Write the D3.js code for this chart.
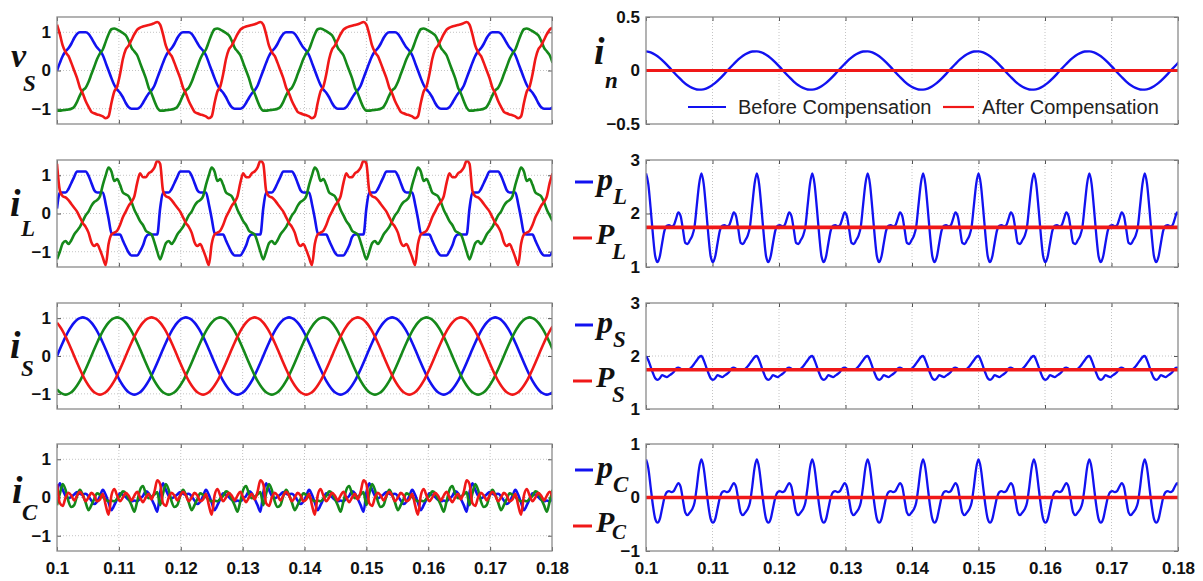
<!DOCTYPE html>
<html>
<head>
<meta charset="utf-8">
<script src="https://cdn.jsdelivr.net/npm/d3@7"></script>
<style>
body { margin: 0; background: #fff; }
svg { display: block; }
.tick text { font-family: "Liberation Sans Narrow", "Arial Narrow", "Liberation Sans", Arial, sans-serif; font-weight: bold; font-size: 17px; fill: #111; }
</style>
</head>
<body>
<svg id="chart" width="1203" height="581"></svg>
<script>
// ---- data -------------------------------------------------------------
const tStart = 0.1, tEnd = 0.18
const xTickValues = [0.1, 0.11, 0.12, 0.13, 0.14, 0.15, 0.16, 0.17, 0.18]
const xTickLabels = ["0.1", "0.11", "0.12", "0.13", "0.14", "0.15", "0.16", "0.17", "0.18"]

const lineCycle = 1 / 60
const vsA = [0, 0.2, 0.38, 0.5, 0.58, 0.7, 0.85, 0.96, 1.0, 1.0, 1.0, 0.96, 0.85, 0.72, 0.6, 0.52, 0.4, 0.2,
             0, -0.2, -0.38, -0.5, -0.58, -0.7, -0.85, -0.96, -1.0, -1.0, -1.0, -0.96, -0.85, -0.72, -0.6, -0.52, -0.4, -0.2]
const vsB = [-1.05, -1.05, -1.04, -1.03, -1.02, -1.0, -0.95, -0.82, -0.65, -0.52, -0.45, -0.3, -0.1, 0.1, 0.3, 0.45, 0.55, 0.75,
             0.95, 1.08, 1.1, 1.07, 1.03, 0.98, 0.92, 0.78, 0.6, 0.5, 0.4, 0.2, 0.0, -0.2, -0.45, -0.6, -0.8, -0.97]
const vsC = [1.2, 0.95, 0.65, 0.48, 0.38, 0.2, 0.0, -0.2, -0.45, -0.6, -0.8, -0.95, -1.08, -1.12, -1.15, -1.17, -1.2, -1.25,
             -1.2, -0.85, -0.55, -0.42, -0.1, 0.3, 0.55, 0.65, 0.8, 0.95, 1.07, 1.12, 1.15, 1.17, 1.19, 1.21, 1.24, 1.27]

const iLA = [0.13, 0.55, 0.55, 0.55, 0.64, 0.8, 0.96, 1.1, 1.1, 1.1, 1.1, 0.99, 0.8, 0.61, 0.55, 0.55, 0.55, 0.25,
             -0.13, -0.51, -0.55, -0.55, -0.55, -0.71, -0.87, -1.02, -1.1, -1.1, -1.1, -0.99, -0.84, -0.62, -0.55, -0.55, -0.55, -0.55]
const iLB = [-1.2, -1.0, -0.78, -0.72, -0.8, -0.7, -0.55, -0.45, -0.35, -0.2, -0.05, 0.05, 0.2, 0.3, 0.35, 0.45, 0.75, 1.0,
             1.2, 1.1, 0.85, 0.9, 0.75, 0.55, 0.5, 0.45, 0.3, 0.1, -0.05, -0.2, -0.3, -0.45, -0.5, -0.55, -0.75, -1.0]
const iLC = [1.3, 0.6, 0.45, 0.42, 0.35, 0.25, 0.15, 0.05, -0.1, -0.25, -0.35, -0.5, -0.75, -0.85, -0.8, -0.95, -1.15, -1.35,
             -0.8, -0.55, -0.5, -0.45, -0.3, -0.1, 0.05, 0.2, 0.3, 0.45, 0.8, 1.05, 0.95, 0.95, 1.05, 1.1, 1.2, 1.38]

const isA = [0, 0.18, 0.35, 0.51, 0.66, 0.78, 0.88, 0.96, 1.0, 1.02, 1.0, 0.96, 0.88, 0.78, 0.66, 0.51, 0.35, 0.18,
             0, -0.18, -0.35, -0.51, -0.66, -0.78, -0.88, -0.96, -1.0, -1.02, -1.0, -0.96, -0.88, -0.78, -0.66, -0.51, -0.35, -0.18]
const isB = [-0.88, -0.96, -1.0, -1.02, -1.0, -0.96, -0.88, -0.78, -0.66, -0.51, -0.35, -0.18, 0, 0.18, 0.35, 0.51, 0.66, 0.78,
             0.88, 0.96, 1.0, 1.02, 1.0, 0.96, 0.88, 0.78, 0.66, 0.51, 0.35, 0.18, 0, -0.18, -0.35, -0.51, -0.66, -0.78]
const isC = [0.88, 0.78, 0.66, 0.51, 0.35, 0.18, 0, -0.18, -0.35, -0.51, -0.66, -0.78, -0.88, -0.96, -1.0, -1.02, -1.0, -0.96,
             -0.88, -0.78, -0.66, -0.51, -0.35, -0.18, 0, 0.18, 0.35, 0.51, 0.66, 0.78, 0.88, 0.96, 1.0, 1.02, 1.0, 0.96]

const icA = [0.13, 0.37, 0.2, 0.04, -0.02, 0.02, 0.08, 0.14, 0.1, 0.08, 0.1, 0.03, -0.08, -0.17, -0.11, 0.04, 0.2, 0.07,
             -0.13, -0.33, -0.2, -0.04, 0.11, 0.07, 0.01, -0.06, -0.1, -0.08, -0.1, -0.03, 0.04, 0.16, 0.11, -0.04, -0.2, -0.37]
const icB = [-0.2, 0.1, 0.35, 0.2, -0.1, -0.25, -0.2, 0.04, 0.2, 0.07, -0.13, -0.33, -0.2, -0.04, 0.11, 0.07, 0.01, -0.06,
             -0.1, -0.08, -0.1, -0.03, 0.04, 0.16, 0.11, -0.04, -0.2, -0.37, -0.1, 0.2, 0.3, 0.1, -0.02, 0.02, 0.08, 0.14]
const icC = [0.35, -0.15, -0.22, 0.0, 0.12, 0.05, -0.08, 0.05, 0.15, 0.05, -0.1, 0.0, 0.12, 0.05, -0.1, -0.05, 0.1, -0.2,
             -0.45, 0.05, 0.22, 0.05, -0.1, 0.0, 0.12, 0.05, -0.08, 0.05, 0.15, 0.0, -0.12, 0.0, 0.1, -0.05, 0.15, 0.45]

// neutral current, one 60 Hz cycle every 15 deg
const inBefore = [0.179, 0.169, 0.147, 0.116, 0.076, 0.031, -0.016, -0.061, -0.103, -0.138, -0.163, -0.177,
                  -0.179, -0.169, -0.147, -0.116, -0.076, -0.031, 0.016, 0.061, 0.103, 0.138, 0.163, 0.177]
const inAfter = 0

// instantaneous powers, one 120 Hz ripple cycle every 15 deg
const powerCycle = 1 / 120
const pL = [2.75, 2.55, 2.1, 1.6, 1.2, 1.09, 1.2, 1.45, 1.68, 1.77, 1.78, 1.76,
            1.78, 1.9, 2.02, 1.95, 1.7, 1.45, 1.43, 1.5, 1.58, 1.75, 2.15, 2.55]
const pS = [2.0, 1.92, 1.8, 1.68, 1.58, 1.55, 1.58, 1.64, 1.62, 1.6, 1.63, 1.66,
            1.7, 1.76, 1.78, 1.76, 1.74, 1.74, 1.75, 1.76, 1.8, 1.86, 1.92, 1.98]
const pC = [0.71, 0.55, 0.2, -0.15, -0.4, -0.47, -0.4, -0.2, 0.0, 0.1, 0.12, 0.1,
            0.12, 0.2, 0.27, 0.2, -0.05, -0.28, -0.33, -0.28, -0.22, -0.1, 0.2, 0.55]
const PL = 1.74, PS = 1.74, PC = 0

// ---- layout -----------------------------------------------------------
const colors = { a: "#1212f0", b: "#15891a", c: "#f01818" }
const leftCol = [57, 552], rightCol = [646, 1178]
const rows = [[17, 124], [160, 267], [303, 409], [444, 551]]

const svg = d3.select("#chart")

// repeat a steady-state cycle along the time window
function tile(cycle, period) {
    const n = cycle.length, dt = period / n, pts = []
    for (let i = 0; tStart + (i - 1) * dt <= tEnd; i++) pts.push([tStart + i * dt, cycle[i % n]])
    return pts
}
const flat = v => [[tStart, v], [tEnd, v]]

const panels = [
    { col: leftCol, row: 0, domain: [-1.4, 1.4], ticks: [-1, 0, 1],
      series: [[tile(vsA, lineCycle), colors.a], [tile(vsB, lineCycle), colors.b], [tile(vsC, lineCycle), colors.c]] },
    { col: leftCol, row: 1, domain: [-1.4, 1.4], ticks: [-1, 0, 1],
      series: [[tile(iLA, lineCycle), colors.a], [tile(iLB, lineCycle), colors.b], [tile(iLC, lineCycle), colors.c]] },
    { col: leftCol, row: 2, domain: [-1.4, 1.4], ticks: [-1, 0, 1],
      series: [[tile(isA, lineCycle), colors.a], [tile(isB, lineCycle), colors.b], [tile(isC, lineCycle), colors.c]] },
    { col: leftCol, row: 3, domain: [-1.4, 1.4], ticks: [-1, 0, 1],
      series: [[tile(icA, lineCycle), colors.a], [tile(icB, lineCycle), colors.b], [tile(icC, lineCycle), colors.c]] },
    { col: rightCol, row: 0, domain: [-0.5, 0.5], ticks: [-0.5, 0, 0.5],
      series: [[tile(inBefore, lineCycle), colors.a, 2.4], [flat(inAfter), colors.c, 3]] },
    { col: rightCol, row: 1, domain: [1, 3], ticks: [1, 2, 3],
      series: [[tile(pL, powerCycle), colors.a, 2.3], [flat(PL), colors.c, 3.6]] },
    { col: rightCol, row: 2, domain: [1, 3], ticks: [1, 2, 3],
      series: [[tile(pS, powerCycle), colors.a, 2.3], [flat(PS), colors.c, 3.6]] },
    { col: rightCol, row: 3, domain: [-1, 1], ticks: [-1, 0, 1],
      series: [[tile(pC, powerCycle), colors.a, 2.3], [flat(PC), colors.c, 3.6]] }
]

panels.forEach((p, k) => {
    const [x0, x1] = p.col, [top, bottom] = rows[p.row]
    const x = d3.scaleLinear().domain([tStart, tEnd]).range([x0, x1])
    const y = d3.scaleLinear().domain(p.domain).range([bottom, top])
    const g = svg.append("g")

    g.append("clipPath").attr("id", "clip" + k)
        .append("rect").attr("x", x0).attr("y", top).attr("width", x1 - x0).attr("height", bottom - top)

    // dotted grid
    g.append("g").selectAll("line").data(xTickValues.slice(1, -1)).join("line")
        .attr("x1", d => x(d)).attr("x2", d => x(d)).attr("y1", top).attr("y2", bottom)
        .attr("stroke", "#c4c4c4").attr("stroke-dasharray", "1,2")
    g.append("g").selectAll("line").data(p.ticks.filter(v => v > p.domain[0] && v < p.domain[1])).join("line")
        .attr("x1", x0).attr("x2", x1).attr("y1", d => y(d)).attr("y2", d => y(d))
        .attr("stroke", "#c4c4c4").attr("stroke-dasharray", "1,2")

    const last = p.row === 3
    const xb = g.append("g").attr("transform", `translate(0,${bottom})`)
        .call(d3.axisBottom(x).tickValues(xTickValues).tickSizeInner(-4).tickSizeOuter(0).tickPadding(11)
            .tickFormat((d, i) => last ? xTickLabels[i] : ""))
    const xt = g.append("g").attr("transform", `translate(0,${top})`)
        .call(d3.axisTop(x).tickValues(xTickValues).tickSizeInner(-4).tickSizeOuter(0).tickFormat(""))
    const yl = g.append("g").attr("transform", `translate(${x0},0)`)
        .call(d3.axisLeft(y).tickValues(p.ticks).tickSizeInner(-4).tickSizeOuter(0).tickPadding(6)
            .tickFormat(d3.format("")))
    const yr = g.append("g").attr("transform", `translate(${x1},0)`)
        .call(d3.axisRight(y).tickValues(p.ticks).tickSizeInner(-4).tickSizeOuter(0).tickFormat(""))
    ;[xb, xt, yl, yr].forEach(a => {
        a.select(".domain").remove()
        a.selectAll(".tick line").attr("stroke", "#555")
    })

    const line = d3.line().x(d => x(d[0])).y(d => y(d[1])).curve(d3.curveMonotoneX)
    g.append("g").attr("clip-path", `url(#clip${k})`)
        .selectAll("path").data(p.series).join("path")
        .attr("d", d => line(d[0]))
        .attr("fill", "none")
        .attr("stroke", d => d[1])
        .attr("stroke-width", d => d[2] || 2.6)
        .attr("stroke-linejoin", "round")

    g.append("rect").attr("x", x0).attr("y", top).attr("width", x1 - x0).attr("height", bottom - top)
        .attr("fill", "none").attr("stroke", "#8a8a8a").attr("stroke-width", 1.3)
})

// ---- axis names -------------------------------------------------------
const serif = "'Liberation Serif', 'Times New Roman', serif"
function symbol(xm, ym, main, sub, xs, ys, size, subSize) {
    const t = svg.append("g").attr("font-family", serif).attr("font-style", "italic").attr("font-weight", "bold").attr("fill", "#111")
    t.append("text").attr("x", xm).attr("y", ym).attr("font-size", size || 34).text(main)
    t.append("text").attr("x", xs).attr("y", ys).attr("font-size", subSize || 23).text(sub)
}
symbol(11, 67, "v", "S", 23, 91)
symbol(10, 216, "i", "L", 21, 236, 38)
symbol(10, 358, "i", "S", 21, 376, 38)
symbol(12, 503, "i", "C", 22, 520, 38)
symbol(594, 64, "i", "n", 605, 88, 38)

const powerNames = [["L", 1], ["S", 2], ["C", 3]]
powerNames.forEach(([s, r]) => {
    const top = rows[r][0]
    const off = r === 3 ? 4 : 0
    const subY = r === 3 ? top + 95 : top + 99 + off
    svg.append("line").attr("x1", 575).attr("x2", 593).attr("y1", top + 22 + off).attr("y2", top + 22 + off)
        .attr("stroke", colors.a).attr("stroke-width", 3)
    svg.append("line").attr("x1", 573).attr("x2", 592).attr("y1", top + 78 + off).attr("y2", top + 78 + off)
        .attr("stroke", colors.c).attr("stroke-width", 3)
    symbol(597, top + 30 + off, "p", s, 613, top + 44 + off, 32)
    symbol(596, top + 84 + off, "P", s, 612, subY, 30, r === 3 ? 21 : 23)
})

// ---- legend for i_n ---------------------------------------------------
const leg = svg.append("g").attr("font-family", "'Liberation Sans', Arial, sans-serif").attr("font-size", 20).attr("fill", "#222")
leg.append("line").attr("x1", 688).attr("x2", 726).attr("y1", 107).attr("y2", 107).attr("stroke", colors.a).attr("stroke-width", 2.2)
leg.append("text").attr("x", 738).attr("y", 114).text("Before Compensation")
leg.append("line").attr("x1", 943).attr("x2", 974).attr("y1", 107).attr("y2", 107).attr("stroke", colors.c).attr("stroke-width", 2.2)
leg.append("text").attr("x", 982).attr("y", 114).text("After Compensation")
</script>
</body>
</html>
